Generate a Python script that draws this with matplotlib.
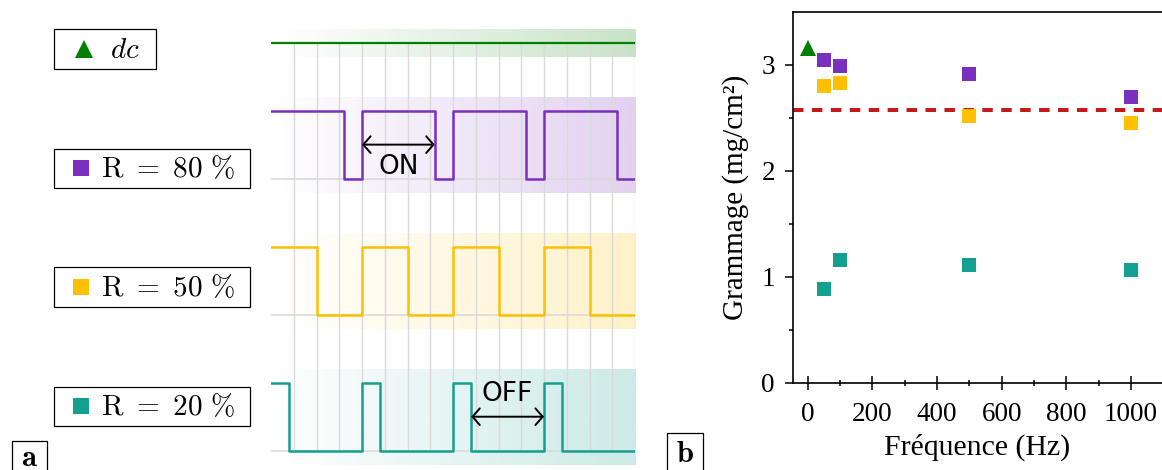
import numpy as np
import matplotlib
matplotlib.use("Agg")
import matplotlib.pyplot as plt
from matplotlib.patches import Rectangle
from matplotlib.colors import to_rgb

plt.rcParams['mathtext.fontset'] = 'cm'

# data
duty = [80, 50, 20]                 # duty cycle R (%) of each square wave
period = 4.0                        # grid units per period
n_periods = 4
freq = [50, 100, 500, 1000]         # Hz
g80 = [3.05, 2.99, 2.915, 2.70]     # mg/cm2
g50 = [2.80, 2.83, 2.52, 2.45]
g20 = [0.89, 1.16, 1.115, 1.07]
dc_freq = [0]
dc_g = [3.16]
g_mean = 2.58

c_dc = '#008000'
c80 = '#7b2fbe'
c50 = '#ffc000'
c20 = '#13a090'
grey = '#dadada'

W, H = 1162, 470
fig = plt.figure(figsize=(W / 100, H / 100), dpi=100)

# overlay in pixel coordinates for boxes / labels
ov = fig.add_axes([0, 0, 1, 1])
ov.set_xlim(0, W)
ov.set_ylim(H, 0)
ov.axis('off')

# ---------------- panel a : waveforms ----------------
ax = fig.add_axes([271 / W, 5 / H, 364 / W, 436 / H])
tmax = period * n_periods

def gradient_band(ax, color, y0, y1, amax=0.22):
    rgba = np.zeros((2, 256, 4))
    rgba[..., :3] = to_rgb(color)
    rgba[..., 3] = np.linspace(0.0, amax, 256)[None, :]
    ax.imshow(rgba, extent=(0, tmax, y0, y1), aspect='auto', origin='lower',
              interpolation='bilinear', zorder=0)

# dc row
dc_y = 6.0
gradient_band(ax, c_dc, dc_y - 0.21, dc_y + 0.2)
ax.plot([0, tmax], [dc_y, dc_y], color=c_dc, lw=1.6, zorder=4)

# vertical grid lines
for k in range(1, int(tmax) + 1):
    ax.plot([k, k], [0, dc_y], color=grey, lw=1.0, zorder=1)

rows = [(80, c80, 4.0), (50, c50, 2.0), (20, c20, 0.0)]
for R, col, base in rows:
    gradient_band(ax, col, base - 0.21, base + 1.2)
    ax.plot([0, tmax], [base, base], color=grey, lw=1.2, zorder=1)
    edges, levels = [], []
    for k in range(n_periods):
        edges += [k * period, k * period + period * R / 100.0]
        levels += [1, 0]
    edges.append(tmax)
    levels.append(0)
    ax.step(edges, np.array(levels) + base, where='post', color=col, lw=1.8, zorder=4)

arrow = dict(arrowstyle='<->,head_length=0.35,head_width=0.4', lw=1.4, color='k',
             shrinkA=0, shrinkB=0, mutation_scale=15)
ax.annotate('', xy=(period, 4.5), xytext=(period + period * duty[0] / 100, 4.5),
            arrowprops=arrow, zorder=5)
ax.text(period + period * duty[0] / 200, 4.17, 'ON', ha='center', va='center',
        fontsize=19, family='DejaVu Sans', zorder=5)
x_off = 2 * period + period * duty[2] / 100
ax.annotate('', xy=(x_off, 0.5), xytext=(3 * period, 0.5), arrowprops=arrow, zorder=5)
ax.text((x_off + 3 * period) / 2, 0.84, 'OFF', ha='center', va='center',
        fontsize=19, family='DejaVu Sans', zorder=5)

ax.set_xlim(0, tmax)
ax.set_ylim(-0.21, 6.2)
ax.axis('off')

# legend boxes (pixel coordinates)
boxes = [
    ((54, 29, 102, 40), '^', c_dc, r'$dc$', 84, 125),
    ((54, 149, 196, 39), 's', c80, r'$\mathrm{R\ =\ 80\ \%}$', 81, 168),
    ((54, 267, 196, 40), 's', c50, r'$\mathrm{R\ =\ 50\ \%}$', 81, 168),
    ((54, 387, 196, 39), 's', c20, r'$\mathrm{R\ =\ 20\ \%}$', 81, 168),
]
for (x0, y0, w, h), mk, col, lab, mx, tx in boxes:
    ov.add_patch(Rectangle((x0, y0), w, h, fill=False, ec='k', lw=0.9))
    yc = y0 + h / 2
    ov.plot([mx], [yc - 0.5], marker=mk, color=col, ms=13 if mk == '^' else 12, mew=0, ls='')
    ov.text(tx, yc + 1, lab, ha='center', va='center', fontsize=21)

# panel letters
ov.add_patch(Rectangle((12, 441), 35, 40, fill=False, ec='k', lw=0.9))
ov.text(29.5, 457, r'$\mathbf{a}$', ha='center', va='center', fontsize=22)
ov.add_patch(Rectangle((667, 433), 36, 45, fill=False, ec='k', lw=0.9))
ov.text(685, 453, r'$\mathbf{b}$', ha='center', va='center', fontsize=22)

# ---------------- panel b : grammage vs frequency ----------------
bx = fig.add_axes([793 / W, 87 / H, 369 / W, 371 / H])
bx.axhline(g_mean, color='#c41a1a', lw=2.9, ls=(0, (2.6, 2.1)), zorder=2)
bx.plot(dc_freq, dc_g, '^', color=c_dc, ms=12, mew=0, zorder=3)
bx.plot(freq, g80, 's', color=c80, ms=10.3, mew=0, zorder=3)
bx.plot(freq, g50, 's', color=c50, ms=10.3, mew=0, zorder=3)
bx.plot(freq, g20, 's', color=c20, ms=10.3, mew=0, zorder=3)

bx.set_xlim(-46, 1096)
bx.set_ylim(0, 3.5)
bx.set_xticks([0, 200, 400, 600, 800, 1000])
bx.set_xticks(np.arange(100, 1001, 200), minor=True)
bx.set_yticks([0, 1, 2, 3])
bx.set_yticks([0.5, 1.5, 2.5], minor=True)
serif = 'Liberation Serif'
for lab in bx.get_xticklabels() + bx.get_yticklabels():
    lab.set_family(serif)
    lab.set_fontsize(19.5)
bx.tick_params(axis='x', which='major', direction='inout', length=9.5, width=1.1, pad=9)
bx.tick_params(axis='x', which='minor', direction='inout', length=5, width=1.1)
bx.tick_params(axis='y', which='major', direction='out', length=6, width=1.1, pad=7)
bx.tick_params(axis='y', which='minor', direction='out', length=3, width=1.1)
bx.spines['right'].set_visible(False)
for s in ['left', 'bottom', 'top']:
    bx.spines[s].set_linewidth(1.2)
bx.set_xlabel('Fréquence (Hz)', family=serif, fontsize=21.5, labelpad=5)
bx.set_ylabel('Grammage (mg/cm²)', family=serif, fontsize=21, labelpad=9)

plt.savefig('out.png', dpi=100)
